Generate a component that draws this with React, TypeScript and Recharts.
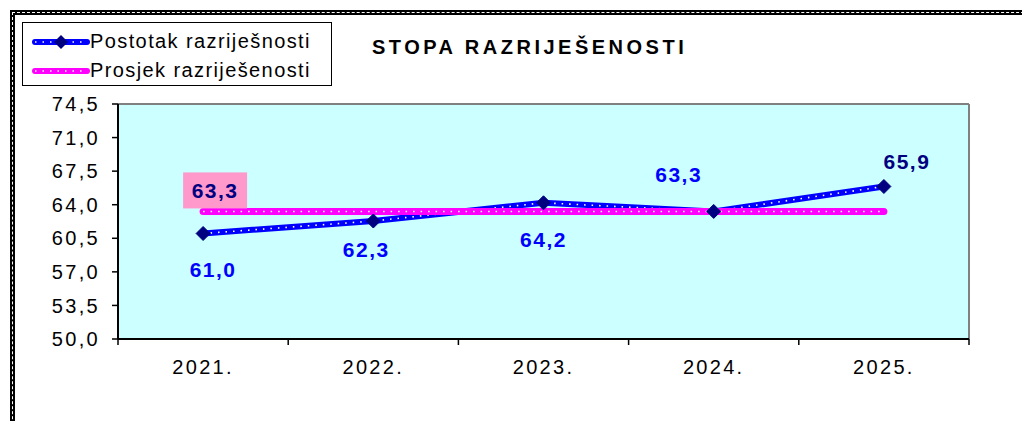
import { LineChart, Line, XAxis, YAxis, CartesianGrid, LabelList } from "recharts";

// Resolution rate per year vs. the period average (Excel-style dotted lines).

const years = ["2021.", "2022.", "2023.", "2024.", "2025."];
const rates = [61.0, 62.3, 64.2, 63.3, 65.9];
const average = [63.3, 63.3, 63.3, 63.3, 63.3];
const yTicks = [50, 53.5, 57, 60.5, 64, 67.5, 71, 74.5];

const data = years.map((year, i) => ({ year, rate: rates[i], avg: average[i] }));

const W = 1022;
const H = 421;
const PLOT = { left: 118, right: 969, top: 104, bottom: 339 };
const BAND = (PLOT.right - PLOT.left) / years.length;
const FONT = "'Liberation Sans', Arial, sans-serif";

const BLUE = "#0000ff";
const NAVY = "#000080";
const PINK = "#ff00ff";

// hand-placed label offsets, like the moved labels in the original sheet
const labelShift = [
  { dx: 10, dy: 36, color: BLUE },
  { dx: -7, dy: 28, color: BLUE },
  { dx: 0, dy: 37, color: BLUE },
  { dx: -35, dy: -37, color: BLUE },
  { dx: 23, dy: -25, color: NAVY },
];

const fmt = (v: number) => v.toFixed(1).replace(".", ",");

function Diamond(props: any) {
  const { cx, cy } = props;
  if (cx == null || cy == null) return null;
  const r = 7;
  return (
    <path
      d={`M${cx},${cy - r} L${cx + r},${cy} L${cx},${cy + r} L${cx - r},${cy} Z`}
      fill={NAVY}
      stroke={NAVY}
    />
  );
}

function YearTick(props: any) {
  const { x, payload, index } = props;
  const half = BAND / 2;
  const y0 = PLOT.bottom;
  return (
    <g>
      <line x1={x - half} x2={x - half} y1={y0} y2={y0 + 6} stroke="#000" strokeWidth={1.5} />
      {index === years.length - 1 && (
        <line x1={x + half} x2={x + half} y1={y0} y2={y0 + 6} stroke="#000" strokeWidth={1.5} />
      )}
      <text
        x={x}
        y={y0 + 28}
        textAnchor="middle"
        dominantBaseline="central"
        fontSize={20}
        letterSpacing={2.3}
        fontFamily={FONT}
        fill="#000"
      >
        {payload.value}
      </text>
    </g>
  );
}

function RateLabel(props: any) {
  const { x, y, value, index } = props;
  const s = labelShift[index];
  return (
    <text
      x={x + s.dx}
      y={y + s.dy}
      textAnchor="middle"
      dominantBaseline="central"
      fontSize={21}
      fontWeight="bold"
      letterSpacing={1.5}
      fontFamily={FONT}
      fill={s.color}
    >
      {fmt(Number(value))}
    </text>
  );
}

function AvgLabel(props: any) {
  const { x, y, value, index } = props;
  if (index !== 0) return null;
  return (
    <g>
      <rect x={x - 20} y={y - 39} width={64} height={36} fill="#ff99cc" />
      <text
        x={x + 12}
        y={y - 21}
        textAnchor="middle"
        dominantBaseline="central"
        fontSize={21}
        fontWeight="bold"
        letterSpacing={1.5}
        fontFamily={FONT}
        fill={NAVY}
      >
        {fmt(Number(value))}
      </text>
    </g>
  );
}

function LegendSample({ color, marker }: { color: string; marker?: boolean }) {
  return (
    <svg width={58} height={14} style={{ display: "block" }}>
      <line x1={3} x2={55} y1={7} y2={7} stroke={color} strokeWidth={6} strokeLinecap="round" />
      <line x1={3} x2={55} y1={7} y2={7} stroke="#fff" strokeWidth={1.6} strokeDasharray="1.5 6" />
      {marker && <path d="M29,0 L36,7 L29,14 L22,7 Z" fill={NAVY} />}
    </svg>
  );
}

export default function App() {
  return (
    <div
      style={{
        position: "absolute",
        left: 0,
        top: 0,
        width: W,
        height: H,
        overflow: "hidden",
        background: "#fff",
        fontFamily: FONT,
      }}
    >
      <div
        style={{
          position: "absolute",
          left: 10,
          top: 10,
          width: 1100,
          height: 500,
          border: "5px solid #000",
        }}
      />
      <div
        style={{
          position: "absolute",
          left: 12,
          top: 12,
          width: 1100,
          height: 500,
          border: "1px dashed #fff",
        }}
      />
      <LineChart
        width={W}
        height={H}
        data={data}
        margin={{ top: PLOT.top, right: W - PLOT.right, left: PLOT.left - 60, bottom: H - PLOT.bottom - 40 }}
      >
        <CartesianGrid
          fill="#ccffff"
          stroke="#808080"
          strokeWidth={2}
          horizontalCoordinatesGenerator={({ offset }: any) => [offset.top]}
          verticalCoordinatesGenerator={({ offset }: any) => [offset.left + offset.width]}
        />
        <XAxis
          dataKey="year"
          scale="band"
          height={40}
          axisLine={{ stroke: "#000", strokeWidth: 2 }}
          tickLine={false}
          tick={<YearTick />}
          interval={0}
        />
        <YAxis
          width={60}
          domain={[50, 74.5]}
          ticks={yTicks}
          interval={0}
          tickFormatter={fmt}
          axisLine={{ stroke: "#000", strokeWidth: 2 }}
          tickLine={{ stroke: "#000", strokeWidth: 1.5 }}
          tickSize={6}
          tickMargin={12}
          tick={{ fill: "#000", fontSize: 20, fontFamily: FONT, letterSpacing: 2.3 }}
        />
        <Line
          dataKey="rate"
          stroke={BLUE}
          strokeWidth={6}
          dot={false}
          activeDot={false}
          isAnimationActive={false}
        />
        <Line
          dataKey="rate"
          stroke="#fff"
          strokeWidth={1.6}
          strokeDasharray="1.5 6"
          dot={<Diamond />}
          activeDot={false}
          isAnimationActive={false}
        >
          <LabelList dataKey="rate" content={<RateLabel />} />
        </Line>
        <Line
          dataKey="avg"
          stroke={PINK}
          strokeWidth={7}
          strokeLinecap="round"
          dot={false}
          activeDot={false}
          isAnimationActive={false}
        />
        <Line
          dataKey="avg"
          stroke="#fff"
          strokeWidth={1.6}
          strokeDasharray="1.5 6"
          dot={false}
          activeDot={false}
          isAnimationActive={false}
        >
          <LabelList dataKey="avg" content={<AvgLabel />} />
        </Line>
      </LineChart>

      <div
        style={{
          position: "absolute",
          left: 372,
          top: 36,
          fontSize: 20,
          fontWeight: "bold",
          letterSpacing: 3.5,
          color: "#000",
        }}
      >
        STOPA RAZRIJEŠENOSTI
      </div>

      <div
        style={{
          position: "absolute",
          left: 22,
          top: 22,
          width: 308,
          height: 62,
          border: "1.5px solid #000",
          background: "#fff",
          fontSize: 20,
          letterSpacing: 1.4,
        }}
      >
        <div style={{ position: "absolute", left: 9, top: 7, display: "flex", alignItems: "center" }}>
          <LegendSample color={BLUE} marker />
          <span>Postotak razriješnosti</span>
        </div>
        <div style={{ position: "absolute", left: 9, top: 36, display: "flex", alignItems: "center" }}>
          <LegendSample color={PINK} />
          <span>Prosjek razriješenosti</span>
        </div>
      </div>
    </div>
  );
}
